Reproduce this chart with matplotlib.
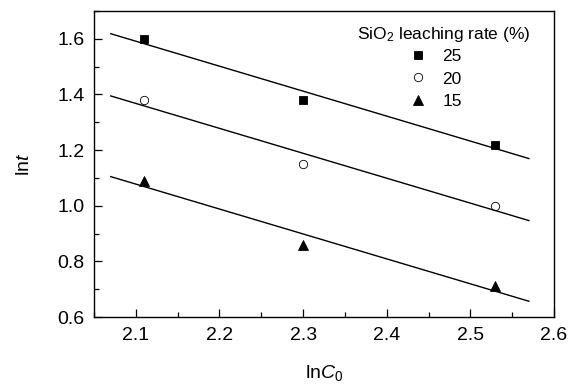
import numpy as np
import matplotlib
matplotlib.use("Agg")
import matplotlib.pyplot as plt
from matplotlib.ticker import MultipleLocator

plt.rcParams['font.family'] = ['Liberation Sans', 'DejaVu Sans']
plt.rcParams['mathtext.fontset'] = 'custom'
plt.rcParams['mathtext.rm'] = 'Liberation Sans'
plt.rcParams['mathtext.it'] = 'Liberation Sans:italic'

# data
lnC0 = [2.11, 2.30, 2.53]
rate_labels = ['25', '20', '15']
lnt_25 = [1.60, 1.38, 1.22]
lnt_20 = [1.38, 1.15, 1.00]
lnt_15 = [1.09, 0.86, 0.71]
fit_range = [2.07, 2.57]

series = [
    (lnt_25, 's', 'k', 6.3),
    (lnt_20, 'o', 'none', 6.0),
    (lnt_15, '^', 'k', 7.0),
]

fig = plt.figure(figsize=(5.75, 3.89), dpi=100)
ax = fig.add_axes([0.1635, 0.185, 0.8, 0.7867])

xf = np.array(fit_range)
for (y, m, fc, ms), lab in zip(series, rate_labels):
    ax.plot(lnC0, y, linestyle='none', marker=m, markersize=ms,
            markerfacecolor=fc, markeredgecolor='k', markeredgewidth=0.6, label=lab)
    k, b = np.polyfit(lnC0, y, 1)
    ax.plot(xf, k * xf + b, color='k', lw=1.0)

ax.set_xlim(2.05, 2.6)
ax.set_ylim(0.6, 1.7)
ax.xaxis.set_major_locator(MultipleLocator(0.1))
ax.xaxis.set_minor_locator(MultipleLocator(0.05))
ax.yaxis.set_major_locator(MultipleLocator(0.2))
ax.yaxis.set_minor_locator(MultipleLocator(0.1))
ax.tick_params(which='both', direction='in', labelsize=14, pad=7, width=0.9)
ax.tick_params(which='major', length=6)
ax.tick_params(which='minor', length=3.5)
ax.xaxis.set_major_formatter(plt.FuncFormatter(lambda v, p: f'{v:.1f}'))
ax.yaxis.set_major_formatter(plt.FuncFormatter(lambda v, p: f'{v:.1f}'))
for s in ax.spines.values():
    s.set_linewidth(1.0)

ax.set_xlabel('ln$C_0$', fontsize=14, labelpad=14)
ax.set_ylabel('ln$t$', fontsize=14, labelpad=17)

# legend title as separate text, entries sit left of its centre like the original
ax.text(0.948, 0.954, 'SiO$_2$ leaching rate (%)', transform=ax.transAxes,
        ha='right', va='top', fontsize=12.5)
leg = ax.legend(frameon=False, fontsize=12.5, loc='upper left',
                bbox_to_anchor=(0.686, 0.875), handletextpad=0.9,
                labelspacing=0.4, borderaxespad=0, borderpad=0,
                handlelength=1.0)

fig.savefig('out.png', dpi=100)
